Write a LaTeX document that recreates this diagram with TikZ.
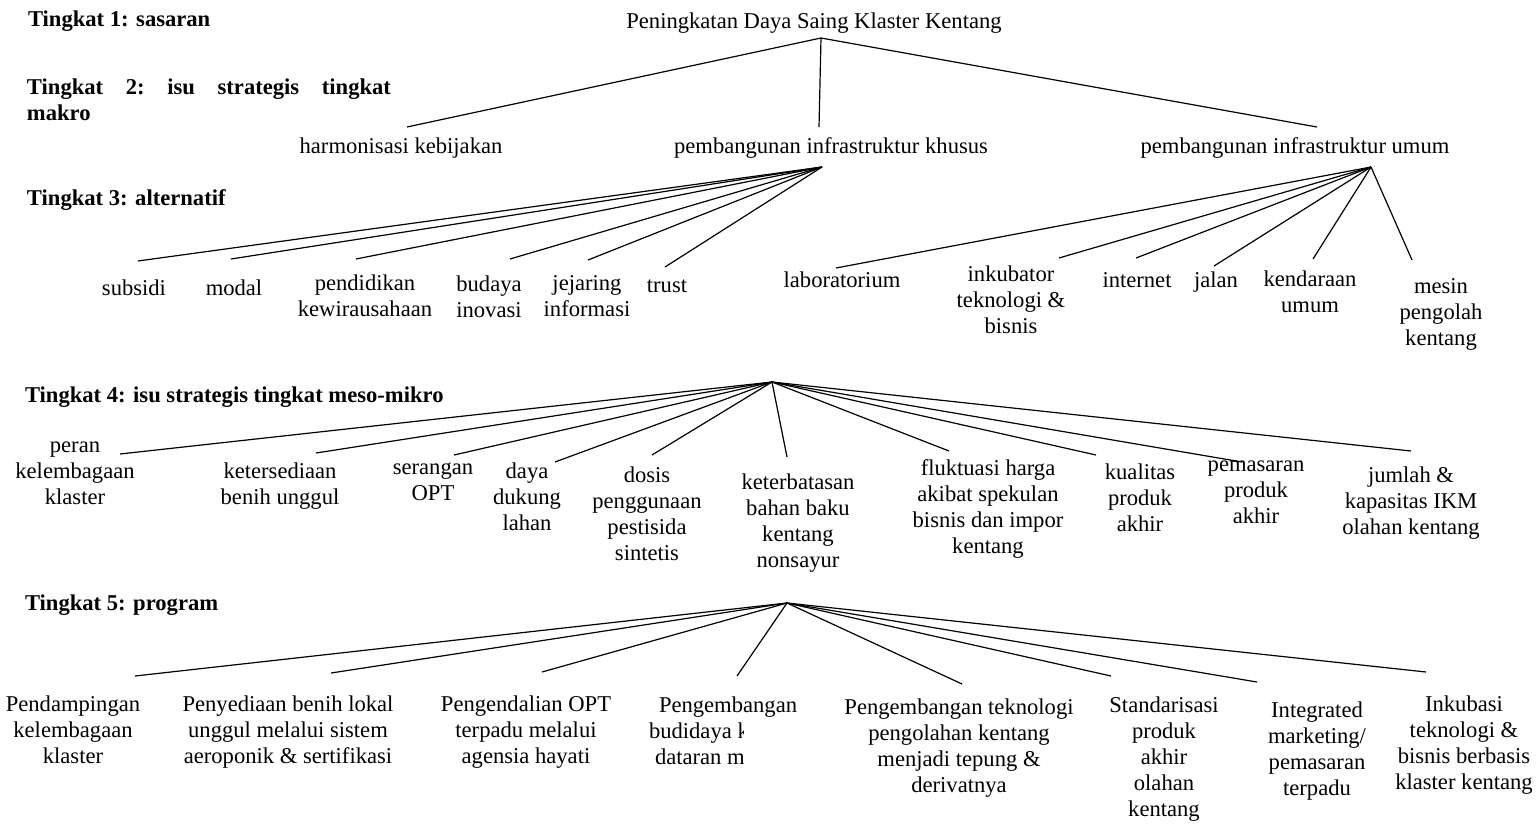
\documentclass[tikz,border=0pt]{standalone}
\usepackage{fontspec}
\setmainfont{Liberation Serif}
\begin{document}
\begin{tikzpicture}[x=1pt,y=-1pt,
  every node/.style={inner sep=0pt,outer sep=0pt},
  lbl/.style={font=\fontsize{22.6}{26}\selectfont,align=center,anchor=north,
    execute at begin node=\strut,execute at end node=\strut},
  lvl/.style={font=\fontsize{22.6}{26}\selectfont\bfseries,align=left,anchor=north west,
    execute at begin node=\strut,execute at end node=\strut},
  link/.style={line width=1.2pt}]
\useasboundingbox (0,0) rectangle (1536,825);

% level captions
\node[lvl] (cap1) at (28,8) {Tingkat 1: sasaran};
\node[lvl] (cap2) at (27,79) {\hbox to 364pt{Tingkat\hfill 2:\hfill isu\hfill strategis\hfill tingkat}\\makro};
\node[lvl] (cap3) at (27,187) {Tingkat 3: alternatif};
\node[lvl] (cap4) at (25,384) {Tingkat 4: isu strategis tingkat meso-mikro};
\node[lvl] (cap5) at (25,592) {Tingkat 5: program};

% level 1
\node[lbl] (goal) at (814,10) {Peningkatan Daya Saing Klaster Kentang};
\coordinate (h1) at (821,38);

% level 2
\node[lbl] (harm) at (401,135) {harmonisasi kebijakan};
\node[lbl] (khusus) at (831,135) {pembangunan infrastruktur khusus};
\node[lbl] (umum) at (1295,135) {pembangunan infrastruktur umum};
\coordinate (e-harm) at (407,127);
\coordinate (e-khusus) at (819,127);
\coordinate (e-umum) at (1317,127);
\coordinate (h2a) at (822,167);
\coordinate (h2b) at (1371,167);

% level 3
\node[lbl] (subsidi) at (134,277) {subsidi};
\node[lbl] (modal) at (234,277) {modal};
\node[lbl] (pendidikan) at (365,275) {pendidikan\\kewirausahaan};
\node[lbl] (budaya) at (489,276) {budaya\\inovasi};
\node[lbl] (jejaring) at (587,276) {jejaring\\informasi};
\node[lbl] (trust) at (667,274) {trust};
\node[lbl] (lab) at (842,269) {laboratorium};
\node[lbl] (inkubator) at (1011,266) {inkubator\\teknologi \&\\bisnis};
\node[lbl] (internet) at (1137,269) {internet};
\node[lbl] (jalan) at (1216,269) {jalan};
\node[lbl] (kendaraan) at (1310,271) {kendaraan\\umum};
\node[lbl] (mesin) at (1441,279) {mesin\\pengolah\\kentang};

\coordinate (e-subsidi) at (138,261);
\coordinate (e-modal) at (231,259);
\coordinate (e-pendidikan) at (356,259);
\coordinate (e-budaya) at (510,259);
\coordinate (e-jejaring) at (588,260);
\coordinate (e-trust) at (665,267);
\coordinate (e-lab) at (836,268);
\coordinate (e-inkubator) at (1059,258);
\coordinate (e-internet) at (1136,258);
\coordinate (e-jalan) at (1214,266);
\coordinate (e-kendaraan) at (1313,259);
\coordinate (e-mesin) at (1412,260);

% level 4
\coordinate (h4) at (772,382);
\node[lbl] (peran) at (75,442) {peran\\kelembagaan\\klaster};
\node[lbl] (benih) at (280,463) {ketersediaan\\benih unggul};
\node[lbl] (opt) at (433,463) {serangan\\OPT};
\node[lbl] (lahan) at (527,463) {daya\\dukung\\lahan};
\node[lbl] (dosis) at (647,467) {dosis\\penggunaan\\pestisida\\sintetis};
\node[lbl] (bahan) at (798,474) {keterbatasan\\bahan baku\\kentang\\nonsayur};
\node[lbl] (harga) at (988,460) {fluktuasi harga\\akibat spekulan\\bisnis dan impor\\kentang};
\node[lbl] (kualitas) at (1140,464) {kualitas\\produk\\akhir};
\node[lbl] (pasar) at (1256,461) {pemasaran\\produk\\akhir};
\node[lbl] (ikm) at (1411,467) {jumlah \&\\kapasitas IKM\\olahan kentang};

\coordinate (e-peran) at (120,454);
\coordinate (e-benih) at (316,453);
\coordinate (e-opt) at (454,455);
\coordinate (e-lahan) at (555,462);
\coordinate (e-dosis) at (652,455);
\coordinate (e-bahan) at (787,457);
\coordinate (e-harga) at (949,451);
\coordinate (e-kualitas) at (1096,455);
\coordinate (e-pasar) at (1242,462);
\coordinate (e-ikm) at (1411,451);

% level 5
\coordinate (h5) at (787,603);
\node[lbl] (p1) at (73,696) {Pendampingan\\kelembagaan\\klaster};
\node[lbl] (p2) at (288,696) {Penyediaan benih lokal\\unggul melalui sistem\\aeroponik \& sertifikasi};
\node[lbl] (p3) at (526,696) {Pengendalian OPT\\terpadu melalui\\agensia hayati};
\begin{scope}
  \clip (600,680) -- (820,680) -- (820,721) -- (743,721) -- (743,790) -- (600,790) -- cycle;
  \node[lbl,align=left,anchor=north west] (p4) at (649,697)
    {\hspace*{10pt}Pengembangan\\budidaya k\\\hspace*{6pt}dataran m};
\end{scope}
\node[lbl] (p5) at (959,699) {Pengembangan teknologi\\pengolahan kentang\\menjadi tepung \&\\derivatnya};
\node[lbl] (p6) at (1164,697) {Standarisasi\\produk\\akhir\\olahan\\kentang};
\node[lbl] (p7) at (1317,702) {Integrated\\marketing/\\pemasaran\\terpadu};
\node[lbl] (p8) at (1464,696) {Inkubasi\\teknologi \&\\bisnis berbasis\\klaster kentang};

\coordinate (e-p1) at (135,676);
\coordinate (e-p2) at (331,673);
\coordinate (e-p3) at (542,672);
\coordinate (e-p4) at (737,676);
\coordinate (e-p5) at (962,684);
\coordinate (e-p6) at (1111,676);
\coordinate (e-p7) at (1257,682);
\coordinate (e-p8) at (1426,672);

% connectors
\foreach \t in {harm,khusus,umum} \draw[link] (h1) -- (e-\t);
\foreach \t in {subsidi,modal,pendidikan,budaya,jejaring,trust} \draw[link] (h2a) -- (e-\t);
\foreach \t in {lab,inkubator,internet,jalan,kendaraan,mesin} \draw[link] (h2b) -- (e-\t);
\foreach \t in {peran,benih,opt,lahan,dosis,bahan,harga,kualitas,pasar,ikm} \draw[link] (h4) -- (e-\t);
\foreach \t in {p1,p2,p3,p4,p5,p6,p7,p8} \draw[link] (h5) -- (e-\t);
\end{tikzpicture}
\end{document}
